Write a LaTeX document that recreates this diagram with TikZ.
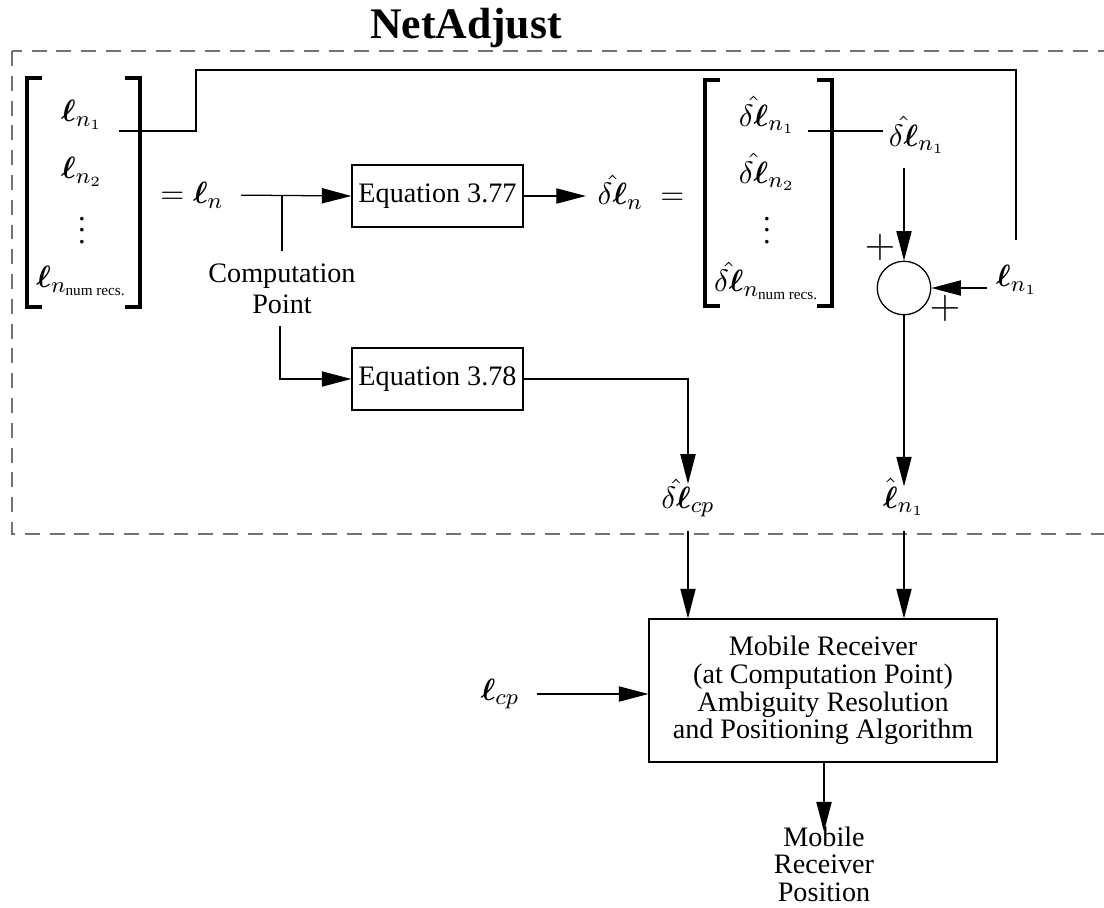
\documentclass[tikz,border=0pt]{standalone}
\usepackage{amsmath,amssymb}
\usepackage{fontspec}
\setmainfont{Liberation Serif}
\usetikzlibrary{arrows.meta,positioning,calc}
\newcommand{\bl}{\boldsymbol{\ell}}
\newcommand{\dbl}{\hat{\delta\bl}}
\newcommand{\nrec}{n_{\text{num recs.}}}

\begin{document}
\begin{tikzpicture}[x=0.355pt,y=-0.355pt,
    every node/.style={inner sep=0pt, font=\fontsize{10}{10.5}\selectfont},
    mth/.style={font=\fontsize{10.8}{11}\selectfont},
    eqbox/.style={draw, line width=0.45pt, minimum width=60.7pt, minimum height=22pt},
    sig/.style={-{Triangle[length=10.5pt,width=5.4pt]}, line width=0.45pt},
    wire/.style={line width=0.45pt},
    brk/.style={line width=1.1pt}]
\useasboundingbox (0,0) rectangle (1104,907);

% title and frame
\node[font=\fontsize{15.5}{18}\selectfont\bfseries] (title) at (466,28) {NetAdjust};
\draw[black!55, dash pattern=on 5.3pt off 3.5pt, line width=0.45pt] (12,51) rectangle (1108,534);
\coordinate (frameS) at (12,534);

% left vector
\node[mth] (a1) at (82,115) {$\bl_{n_1}$};
\node[mth] (a2) at (82,172) {$\bl_{n_2}$};
\node[mth] (a3) at (82,222) {$\vdots$};
\node[mth] (a4) at (82,281) {$\bl_{\nrec}$};
\draw[brk] (42,78) -- (27,78) -- (27,307) -- (42,307);
\draw[brk] (125,78) -- (140,78) -- (140,307) -- (125,307);
\node[mth] (ln) at (192,195) {$=\bl_n$};

% blocks
\node[eqbox] (eq77) at (437.5,196) {Equation 3.77};
\node[eqbox] (eq78) at (437.5,379) {Equation 3.78};
\node[align=center, font=\fontsize{10}{11.2}\selectfont] (cp) at (282,289) {Computation\\Point};
\coordinate (split) at (282,195);
\coordinate (cpdown) at (280,326);

% right vector
\node[mth] (dln) at (641,192) {$\dbl_n\;=$};
\node[mth] (b1) at (767,115) {$\dbl_{n_1}$};
\node[mth] (b2) at (767,172) {$\dbl_{n_2}$};
\node[mth] (b3) at (767,222) {$\vdots$};
\node[mth] (b4) at (767,281) {$\dbl_{\nrec}$};
\draw[brk] (720,80) -- (705,80) -- (705,306) -- (720,306);
\draw[brk] (817,80) -- (832,80) -- (832,306) -- (817,306);

% summing junction
\node[mth] (d1) at (917,135) {$\dbl_{n_1}$};
\node[draw, circle, line width=0.45pt, minimum size=19pt] (sum) at (904,288) {};
\node[mth] (r1) at (1017,280) {$\bl_{n_1}$};
\node[font=\fontsize{14}{14}\selectfont] (plusA) at (880,247) {$+$};
\node[font=\fontsize{14}{14}\selectfont] (plusB) at (945,308) {$+$};
\node[mth] (lhat) at (904,497) {$\hat{\bl}_{n_1}$};
\node[mth] (dlcp) at (688,498) {$\dbl_{cp}$};

% receiver
\node[draw, line width=0.45pt, align=center, minimum width=123.5pt, minimum height=50.8pt,
      font=\fontsize{10}{9.8}\selectfont] (recv) at (823,690.5)
      {Mobile Receiver\\(at Computation Point)\\Ambiguity Resolution\\and Positioning Algorithm};
\node[mth] (lcp) at (500,694) {$\bl_{cp}$};
\node[align=center, font=\fontsize{10}{9.8}\selectfont] (pos) at (824,864) {Mobile\\Receiver\\Position};

% connectors
\coordinate (a1out) at (119,131);
\coordinate (hop) at (196,70);
\coordinate (fb) at (1016,240);
\coordinate (b1out) at (808,131);
\draw[wire] (a1out) -| (hop) -| (fb);
\draw[wire] (b1out) -- ([xshift=-2pt]d1.west |- b1out);
\draw[sig, shorten <=5pt] (sum.north |- d1.south) -- (sum.north);
\draw[sig, shorten <=3pt] (r1.west |- sum.east) -- (sum.east);
\draw[sig, shorten >=-3pt] (sum.south) -- (sum.south |- lhat.north);
\draw[sig, shorten <=6pt] (ln.east) -- (eq77.west);
\draw[wire] (split) -- ([yshift=4.5pt]cp.north -| split);
\draw[sig] (cpdown) |- (eq78.west);
\draw[sig, shorten >=4pt] (eq77.east) -- (dln.west |- eq77.east);
\draw[sig, shorten >=-2pt] (eq78.east) -| (dlcp.north);
\draw[sig, shorten <=-1pt] (dlcp |- frameS) -- (dlcp |- recv.north);
\draw[sig, shorten <=-1pt] (lhat |- frameS) -- (lhat |- recv.north);
\draw[sig, shorten <=6pt] (lcp.east) -- (recv.west |- lcp.east);
\draw[sig, shorten >=-2pt] (pos.north |- recv.south) -- (pos.north);
\end{tikzpicture}
\end{document}
